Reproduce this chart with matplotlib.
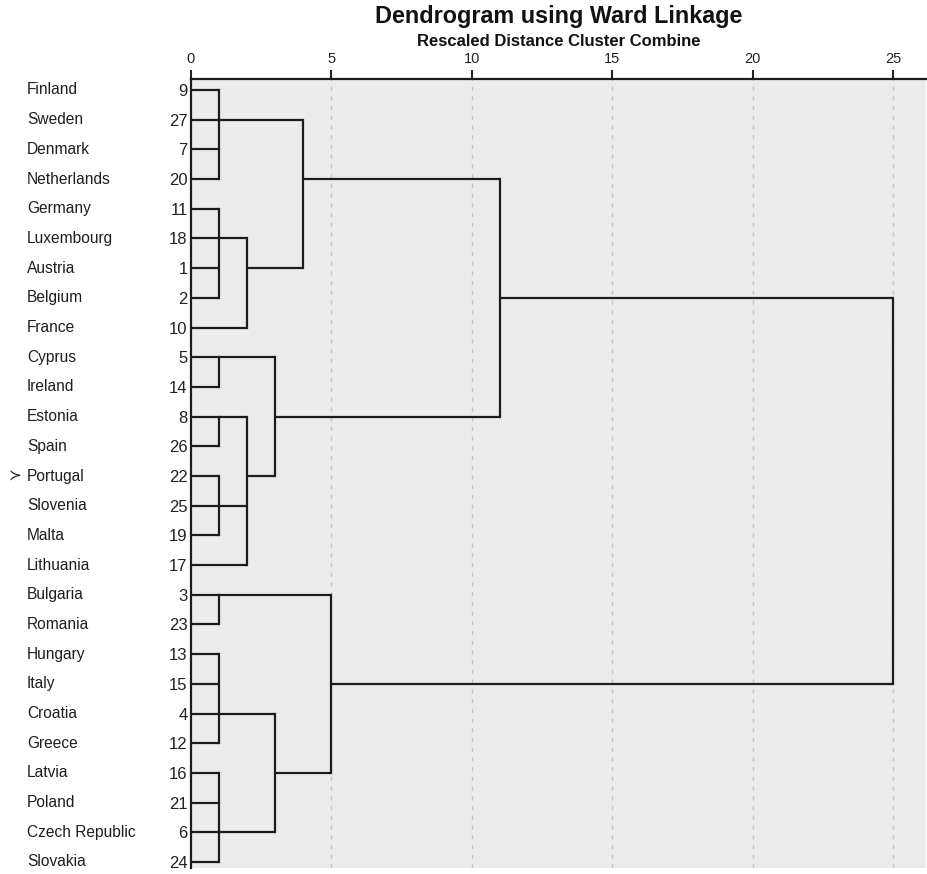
import matplotlib.pyplot as plt
from matplotlib.transforms import blended_transform_factory

countries = ["Finland", "Sweden", "Denmark", "Netherlands", "Germany", "Luxembourg",
             "Austria", "Belgium", "France", "Cyprus", "Ireland", "Estonia", "Spain",
             "Portugal", "Slovenia", "Malta", "Lithuania", "Bulgaria", "Romania",
             "Hungary", "Italy", "Croatia", "Greece", "Latvia", "Poland",
             "Czech Republic", "Slovakia"]
case_ids = [9, 27, 7, 20, 11, 18, 1, 2, 10, 5, 14, 8, 26, 22, 25, 19, 17,
            3, 23, 13, 15, 4, 12, 16, 21, 6, 24]

# merges: name, members (leaves or earlier clusters), rescaled distance, leaf the branch leaves from
merge_names = ["A1", "A2", "A3", "A", "B1", "B2", "B3", "B4", "B", "AB",
               "C1", "C2", "C3", "C4", "C", "root"]
merge_members = [
    ["Finland", "Sweden", "Denmark", "Netherlands"],
    ["Germany", "Luxembourg", "Austria", "Belgium"],
    ["A2", "France"],
    ["A1", "A3"],
    ["Cyprus", "Ireland"],
    ["Estonia", "Spain"],
    ["Portugal", "Slovenia", "Malta"],
    ["B2", "B3", "Lithuania"],
    ["B1", "B4"],
    ["A", "B"],
    ["Bulgaria", "Romania"],
    ["Hungary", "Italy", "Croatia", "Greece"],
    ["Latvia", "Poland", "Czech Republic", "Slovakia"],
    ["C2", "C3"],
    ["C1", "C4"],
    ["AB", "C"],
]
merge_dist = [1, 1, 2, 4, 1, 1, 1, 2, 3, 11, 1, 1, 1, 3, 5, 25]
merge_anchor = ["Sweden", "Luxembourg", "Austria", "Netherlands", "Cyprus", "Estonia",
                "Slovenia", "Portugal", "Estonia", "Belgium", "Bulgaria", "Croatia",
                "Czech Republic", "Latvia", "Italy", None]

W, H = 928, 874
fig = plt.figure(figsize=(W / 100, H / 100), dpi=100)
plt.rcParams['font.family'] = ['Liberation Sans', 'DejaVu Sans']

ax = fig.add_axes([191 / W, 1 - 868 / H, (926 - 191) / W, (868 - 79) / H])
ax.set_facecolor('#ebebeb')

line_col = '#1c1c1c'
pos = {c: (0.0, i) for i, c in enumerate(countries)}  # node -> (x, row)
for name, members, d, anchor in zip(merge_names, merge_members, merge_dist, merge_anchor):
    rows = []
    for m in members:
        x0, r = pos[m]
        ax.plot([x0, d], [r, r], color=line_col, lw=1.6, solid_capstyle='butt')
        rows.append(r)
    ax.plot([d, d], [min(rows), max(rows)], color=line_col, lw=1.6,
            solid_capstyle='projecting')
    if anchor is not None:
        pos[name] = (d, countries.index(anchor))

for g in [5, 10, 15, 20, 25]:
    ax.axvline(g, color='#c4c4c4', lw=1.0, ls=(0, (3, 4)), zorder=0)

row_px = (862 - 90) / 26
ax.set_xlim(0, (926 - 191) / ((893 - 191) / 25))
ax.set_ylim(26 + (868 - 862) / row_px, -(90 - 79) / row_px)

ax.xaxis.tick_top()
ax.set_xticks([0, 5, 10, 15, 20, 25])
ax.tick_params(axis='x', direction='out', length=6.5, width=1.5, pad=3,
               labelsize=10.5, colors='#222222')
ax.set_yticks(range(len(case_ids)), [str(c) for c in case_ids])
ax.tick_params(axis='y', length=0, pad=2.5, labelsize=12, colors='#222222')

for s in ['right', 'bottom']:
    ax.spines[s].set_visible(False)
ax.spines['top'].set_linewidth(1.6)
ax.spines['left'].set_linewidth(1.6)
ax.spines['top'].set_color(line_col)
ax.spines['left'].set_color(line_col)

tr = blended_transform_factory(fig.transFigure, ax.transData)
for i, c in enumerate(countries):
    ax.text(27 / W, i, c, transform=tr, ha='left', va='center', fontsize=11.2,
            color='#1e1e1e')
ax.text(8 / W, countries.index("Portugal"), "\u227b", transform=tr, ha='left',
        va='center', fontsize=11, color='#222222', family='DejaVu Sans')

cx = (191 + 926) / 2 / W
fig.text(cx, 1 - 17 / H, "Dendrogram using Ward Linkage", ha='center', va='center',
         fontsize=16.8, fontweight='bold', color='#111111')
fig.text(cx, 1 - 42 / H, "Rescaled Distance Cluster Combine", ha='center', va='center',
         fontsize=12, fontweight='bold', color='#111111')

fig.savefig("out.png", dpi=100)
